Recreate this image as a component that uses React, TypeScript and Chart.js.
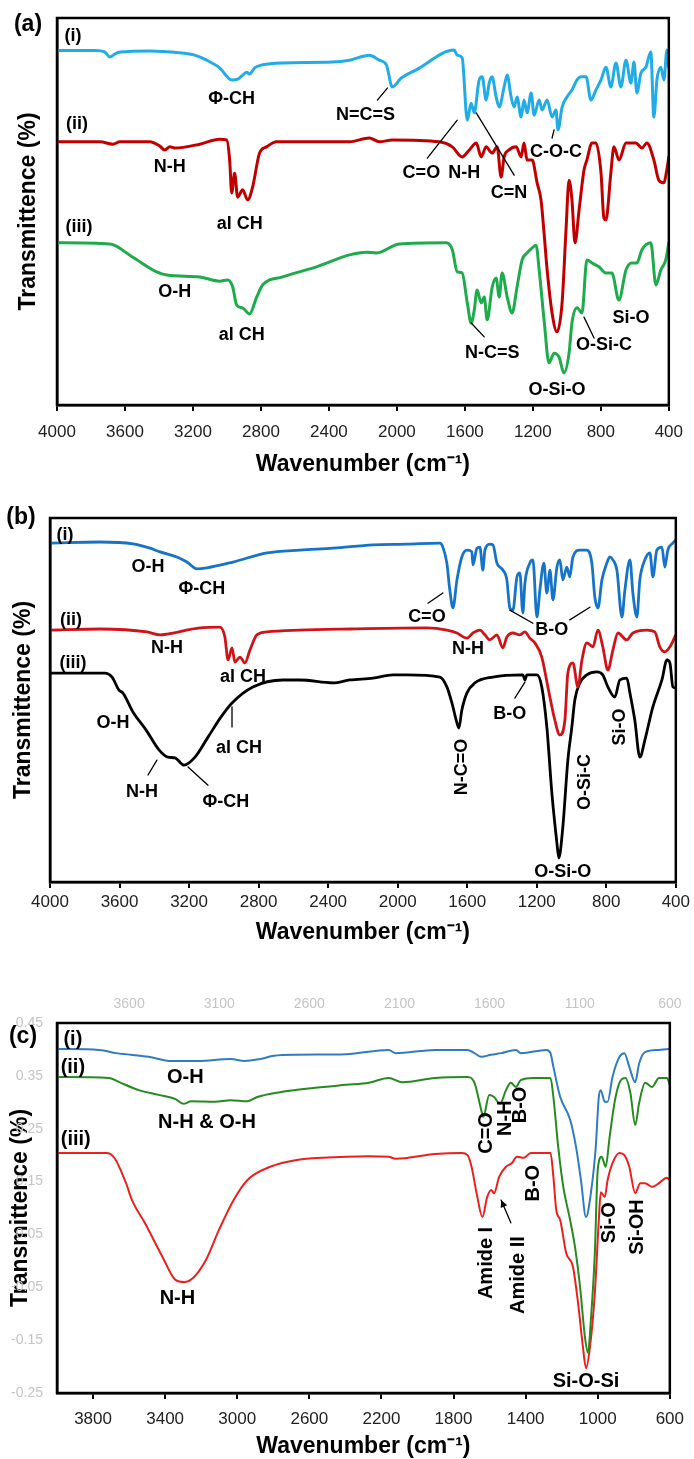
import React, { useEffect, useRef } from "react";
import { Chart, registerables } from "chart.js";

Chart.register(...registerables);

type Pair = [number, number];
type Note = { text: string; x: number; y: number; rot?: boolean };
type Leader = [number, number, number, number, boolean?];

const FONT = '"Liberation Sans", Arial, Helvetica, sans-serif';

// ---------- axis ticks ----------
const waveTicksAB = [4000, 3600, 3200, 2800, 2400, 2000, 1600, 1200, 800, 400];
const waveTicksC = [3800, 3400, 3000, 2600, 2200, 1800, 1400, 1000, 600];
const waveTicksCTop = [3600, 3100, 2600, 2100, 1600, 1100, 600];
const transTicksC = [0.45, 0.35, 0.25, 0.15, 0.05, -0.05, -0.15, -0.25];

// ---------- (a) spectra: [wavenumber cm-1, transmittance (offset)] ----------
const aSpec1: Pair[] = [
  [4000, 91.6], [3777, 91.6], [3718, 91.2], [3689, 89.9], [3659, 90.7], [3630, 91.2], [3454, 91.5],
  [3278, 91.0], [3190, 90.4], [3119, 89.1], [3043, 87.1], [2972, 84.0], [2937, 84.2], [2913, 85.0],
  [2884, 86.0], [2867, 85.5], [2837, 87.1], [2790, 87.9], [2673, 88.4], [2379, 88.6], [2279, 89.1],
  [2162, 90.4], [2103, 89.1], [2062, 87.9], [2027, 82.2], [1974, 84.5], [1886, 86.6], [1663, 91.7],
  [1645, 90.4], [1616, 89.7], [1586, 73.6], [1563, 78.0], [1545, 75.5], [1516, 84.0], [1498, 84.8],
  [1475, 78.8], [1457, 83.2], [1440, 84.8], [1416, 79.6], [1398, 77.0], [1369, 82.2], [1351, 85.3],
  [1328, 79.6], [1310, 77.0], [1293, 79.6], [1269, 74.4], [1252, 78.8], [1234, 75.5], [1210, 80.6],
  [1193, 74.9], [1163, 78.8], [1146, 76.2], [1116, 78.8], [1087, 74.4], [1064, 76.2], [1052, 71.1],
  [1028, 77.0], [999, 79.6], [970, 81.4], [940, 84.0], [917, 84.8], [887, 84.8], [858, 78.8],
  [829, 81.4], [799, 84.0], [770, 87.3], [741, 82.2], [711, 88.4], [682, 82.2], [652, 89.1],
  [623, 83.2], [605, 88.6], [588, 80.6], [564, 85.8], [535, 87.3], [506, 91.2], [488, 74.4],
  [470, 84.0], [447, 87.3], [429, 84.0], [411, 91.7], [400, 87.3],
];
const aSpec2: Pair[] = [
  [4000, 68.0], [3747, 68.0], [3671, 67.4], [3630, 68.0], [3454, 68.0], [3395, 66.9], [3366, 65.9],
  [3336, 66.7], [3307, 66.4], [3160, 67.4], [3043, 68.7], [3002, 68.5], [2984, 63.3], [2972, 54.8],
  [2955, 59.9], [2937, 53.7], [2908, 55.6], [2878, 53.0], [2849, 56.3], [2808, 65.1], [2767, 66.7],
  [2708, 68.0], [2279, 68.0], [2162, 69.0], [2103, 68.0], [2027, 68.5], [1751, 68.0], [1674, 66.7],
  [1616, 64.1], [1574, 65.9], [1533, 67.7], [1504, 64.1], [1475, 66.7], [1440, 65.1], [1410, 66.7],
  [1387, 58.9], [1369, 64.1], [1340, 65.9], [1298, 66.7], [1269, 64.1], [1252, 67.7], [1234, 63.3],
  [1204, 63.3], [1175, 57.4], [1152, 53.0], [1134, 44.4], [1116, 34.9], [1087, 23.8], [1058, 18.9],
  [1028, 26.4], [1005, 45.2], [987, 58.1], [970, 53.0], [952, 41.9], [928, 50.4], [899, 60.7],
  [882, 63.3], [852, 67.7], [829, 67.7], [799, 60.0], [782, 48.3], [770, 47.8], [741, 60.0],
  [723, 66.7], [693, 63.3], [652, 67.7], [594, 67.7], [558, 66.4], [529, 67.7], [488, 63.3],
  [459, 58.1], [429, 57.4], [412, 60.7], [400, 64.1],
];
const aSpec3: Pair[] = [
  [4000, 41.9], [3689, 41.6], [3554, 38.2], [3413, 34.4], [3354, 33.6], [3160, 33.1], [3043, 32.0],
  [2996, 32.3], [2966, 30.5], [2943, 25.8], [2908, 25.1], [2867, 23.5], [2825, 27.9], [2790, 31.0],
  [2673, 33.1], [2473, 35.7], [2279, 38.8], [2179, 39.5], [2121, 39.3], [1986, 41.6], [1710, 41.9],
  [1674, 40.1], [1645, 34.4], [1616, 34.1], [1586, 26.4], [1563, 21.2], [1545, 24.5], [1528, 29.7],
  [1504, 26.4], [1486, 27.9], [1469, 22.0], [1439, 30.5], [1416, 32.8], [1398, 27.9], [1381, 34.1],
  [1351, 27.9], [1322, 23.8], [1293, 30.5], [1263, 37.5], [1234, 39.3], [1204, 40.6], [1181, 41.3],
  [1163, 34.9], [1134, 22.0], [1105, 10.9], [1075, 13.4], [1046, 12.4], [1017, 8.3], [987, 13.4],
  [970, 21.2], [940, 25.1], [911, 23.8], [882, 37.5], [852, 36.7], [811, 35.7], [770, 34.1],
  [735, 34.1], [694, 27.1], [652, 34.9], [617, 36.7], [588, 36.7], [558, 40.1], [506, 41.9],
  [476, 31.0], [447, 34.9], [418, 37.5], [400, 41.9],
];

// ---------- (b) spectra ----------
const bSpec1: Pair[] = [
  [4000, 93.1], [3712, 93.4], [3523, 92.9], [3425, 91.7], [3367, 90.7], [3270, 89.3], [3212, 87.9],
  [3155, 86.0], [3097, 86.3], [2948, 87.9], [2752, 90.4], [2562, 91.2], [2372, 91.7], [2142, 92.6],
  [1947, 92.8], [1757, 93.1], [1740, 92.0], [1717, 87.6], [1700, 80.2], [1682, 75.3], [1659, 83.0],
  [1631, 89.3], [1602, 91.2], [1573, 90.7], [1567, 87.1], [1544, 91.7], [1527, 92.0], [1510, 85.7],
  [1498, 91.2], [1470, 92.8], [1452, 92.6], [1429, 87.6], [1412, 86.5], [1395, 85.7], [1372, 83.0],
  [1355, 75.3], [1337, 74.7], [1314, 83.8], [1297, 84.9], [1280, 73.9], [1268, 82.1], [1240, 87.6],
  [1222, 88.5], [1199, 72.8], [1182, 80.2], [1159, 87.6], [1142, 79.4], [1124, 85.7], [1107, 77.5],
  [1084, 86.5], [1067, 88.5], [1050, 83.0], [1027, 86.5], [1010, 83.8], [992, 89.3], [952, 91.2],
  [912, 91.2], [883, 87.6], [866, 78.3], [848, 75.3], [825, 83.0], [797, 87.6], [779, 89.3],
  [762, 88.5], [739, 85.7], [710, 72.8], [693, 80.2], [664, 88.5], [647, 79.4], [624, 72.8],
  [607, 83.0], [578, 88.5], [549, 90.4], [532, 83.8], [509, 91.2], [480, 92.0], [463, 86.5],
  [446, 91.2], [417, 93.1], [400, 94.0],
];
const bSpec2: Pair[] = [
  [4000, 69.2], [3712, 69.5], [3442, 68.7], [3367, 67.9], [3327, 68.1], [3293, 68.4], [3137, 69.8],
  [3022, 70.0], [2994, 67.3], [2976, 61.0], [2953, 64.3], [2936, 60.4], [2907, 61.8], [2879, 60.2],
  [2850, 63.7], [2810, 67.9], [2752, 68.7], [2562, 69.2], [2275, 69.5], [1832, 69.8], [1717, 69.2],
  [1659, 68.4], [1602, 67.0], [1567, 68.4], [1527, 69.2], [1498, 67.9], [1470, 66.5], [1429, 67.9],
  [1395, 64.3], [1372, 67.3], [1337, 68.4], [1297, 67.9], [1268, 68.7], [1240, 67.0], [1211, 65.7],
  [1171, 61.8], [1136, 53.6], [1096, 44.5], [1067, 40.4], [1038, 44.5], [1021, 57.4], [992, 60.2],
  [963, 53.6], [940, 61.0], [912, 65.7], [877, 64.6], [848, 69.2], [820, 64.6], [791, 58.2],
  [762, 63.7], [733, 68.4], [682, 66.5], [647, 68.4], [567, 69.2], [521, 68.7], [492, 64.6],
  [463, 63.2], [434, 64.6], [400, 67.9],
];
const bSpec3: Pair[] = [
  [4000, 57.4], [3684, 57.4], [3643, 56.3], [3603, 52.7], [3580, 51.9], [3523, 46.7], [3448, 41.8],
  [3373, 36.3], [3321, 34.3], [3281, 34.1], [3229, 32.1], [3166, 34.3], [3091, 39.8], [3017, 45.3],
  [2953, 49.2], [2833, 53.6], [2660, 55.5], [2562, 55.5], [2372, 54.7], [2275, 55.5], [2142, 56.0],
  [2027, 56.9], [1947, 56.9], [1757, 56.3], [1717, 53.6], [1688, 49.2], [1659, 43.7], [1648, 42.3],
  [1631, 47.2], [1602, 51.9], [1556, 54.7], [1452, 56.3], [1280, 56.9], [1268, 55.5], [1257, 56.9],
  [1199, 56.9], [1171, 53.6], [1142, 42.6], [1113, 24.4], [1084, 10.7], [1073, 6.6], [1050, 15.1],
  [1021, 33.5], [998, 42.6], [981, 50.0], [952, 54.7], [912, 56.9], [854, 57.7], [820, 56.9],
  [791, 53.6], [751, 50.8], [722, 55.5], [682, 56.0], [664, 51.9], [636, 44.5], [607, 34.3],
  [578, 39.0], [532, 48.1], [480, 55.5], [451, 61.0], [434, 60.2], [417, 53.6], [400, 53.3],
];

// ---------- (c) spectra ----------
const cSpec1: Pair[] = [
  [4000, 0.401], [3765, 0.399], [3671, 0.393], [3491, 0.386], [3365, 0.378], [3217, 0.378],
  [3036, 0.382], [2960, 0.378], [2872, 0.382], [2796, 0.388], [2670, 0.39], [2396, 0.391],
  [2160, 0.399], [2122, 0.393], [1903, 0.399], [1722, 0.399], [1684, 0.393], [1646, 0.386],
  [1591, 0.39], [1536, 0.393], [1454, 0.399], [1427, 0.393], [1284, 0.399], [1262, 0.393],
  [1246, 0.367], [1208, 0.31], [1153, 0.267], [1120, 0.215], [1093, 0.153], [1065, 0.083],
  [1038, 0.128], [1011, 0.215], [994, 0.31], [983, 0.323], [961, 0.301], [945, 0.301],
  [918, 0.348], [879, 0.386], [852, 0.393], [825, 0.367], [792, 0.338], [770, 0.374],
  [737, 0.395], [660, 0.399], [605, 0.401], [600, 0.401],
];
const cSpec2: Pair[] = [
  [4000, 0.348], [3710, 0.346], [3655, 0.338], [3546, 0.323], [3436, 0.314], [3343, 0.306],
  [3299, 0.297], [3255, 0.302], [3124, 0.301], [3036, 0.304], [2943, 0.302], [2889, 0.31],
  [2763, 0.319], [2577, 0.327], [2396, 0.333], [2270, 0.337], [2160, 0.346], [2084, 0.338],
  [1903, 0.346], [1722, 0.348], [1684, 0.337], [1646, 0.285], [1635, 0.272], [1602, 0.314],
  [1575, 0.31], [1542, 0.297], [1509, 0.323], [1482, 0.337], [1454, 0.329], [1427, 0.342],
  [1356, 0.346], [1262, 0.346], [1246, 0.31], [1219, 0.215], [1191, 0.14], [1153, 0.077],
  [1126, 0.026], [1098, -0.049], [1071, -0.144], [1054, -0.174], [1038, -0.112], [1016, 0.015],
  [1000, 0.172], [978, 0.197], [956, 0.178], [934, 0.234], [907, 0.299], [879, 0.337],
  [846, 0.346], [819, 0.318], [792, 0.257], [770, 0.299], [737, 0.337], [699, 0.329],
  [660, 0.346], [616, 0.346], [600, 0.333],
];
const cSpec3: Pair[] = [
  [4000, 0.204], [3726, 0.204], [3682, 0.195], [3617, 0.147], [3584, 0.115], [3513, 0.072],
  [3414, 0.007], [3343, -0.036], [3294, -0.04], [3244, -0.032], [3173, 0.002], [3102, 0.058],
  [3020, 0.115], [2943, 0.153], [2817, 0.178], [2670, 0.191], [2396, 0.197], [2270, 0.198],
  [2160, 0.197], [2122, 0.193], [1903, 0.202], [1755, 0.204], [1722, 0.2], [1700, 0.178],
  [1668, 0.121], [1640, 0.083], [1613, 0.121], [1591, 0.134], [1575, 0.128], [1547, 0.159],
  [1509, 0.178], [1476, 0.185], [1449, 0.197], [1410, 0.195], [1372, 0.204], [1262, 0.204],
  [1246, 0.159], [1230, 0.096], [1208, 0.077], [1175, 0.015], [1137, -0.012], [1109, -0.08],
  [1082, -0.163], [1065, -0.203], [1043, -0.163], [1016, -0.061], [994, 0.077], [983, 0.13],
  [961, 0.121], [945, 0.153], [918, 0.185], [879, 0.204], [852, 0.2], [825, 0.178],
  [792, 0.128], [764, 0.147], [737, 0.147], [699, 0.14], [660, 0.147], [616, 0.157], [600, 0.153],
];

// ---------- band assignments ----------
const aNotes: Note[] = [
  { text: "(i)", x: 3906, y: 95.3 }, { text: "Φ-CH", x: 2972, y: 79.1 },
  { text: "(ii)", x: 3883, y: 72.6 }, { text: "N-H", x: 3336, y: 61.5 },
  { text: "(iii)", x: 3871, y: 46.0 }, { text: "al CH", x: 2925, y: 46.8 },
  { text: "N=C=S", x: 2185, y: 74.9 }, { text: "C=O", x: 1856, y: 59.9 },
  { text: "N-H", x: 1604, y: 59.9 }, { text: "C=N", x: 1340, y: 54.8 },
  { text: "C-O-C", x: 1064, y: 65.4 }, { text: "al CH", x: 2913, y: 18.1 },
  { text: "O-H", x: 3307, y: 29.2 }, { text: "N-C=S", x: 1439, y: 13.4 },
  { text: "O-Si-O", x: 1058, y: 3.9 }, { text: "O-Si-C", x: 782, y: 15.5 },
  { text: "Si-O", x: 623, y: 22.5 },
];
const aLeaders: Leader[] = [
  [2115, 78.8, 2056, 81.9], [1821, 63.8, 1645, 73.6], [1533, 75.5, 1310, 59.4],
  [1087, 69.0, 1075, 71.1], [1563, 21.2, 1486, 17.6], [899, 22.7, 840, 17.3],
];

const bNotes: Note[] = [
  { text: "(i)", x: 3914, y: 95.3 }, { text: "O-H", x: 3436, y: 86.5 },
  { text: "Φ-CH", x: 3126, y: 80.5 }, { text: "(ii)", x: 3879, y: 72.0 },
  { text: "N-H", x: 3327, y: 64.3 }, { text: "(iii)", x: 3868, y: 60.2 },
  { text: "al CH", x: 2890, y: 56.3 }, { text: "O-H", x: 3638, y: 43.7 },
  { text: "N-H", x: 3471, y: 24.7 }, { text: "Φ-CH", x: 2988, y: 22.0 },
  { text: "al CH", x: 2913, y: 36.8 }, { text: "C=O", x: 1832, y: 72.8 },
  { text: "B-O", x: 1113, y: 69.2 }, { text: "N-H", x: 1596, y: 64.0 },
  { text: "N-C=O", x: 1631, y: 31.6, rot: true }, { text: "B-O", x: 1355, y: 46.1 },
  { text: "O-Si-O", x: 1050, y: 2.7 }, { text: "O-Si-C", x: 923, y: 27.5, rot: true },
  { text: "Si-O", x: 722, y: 42.6, rot: true },
];
const bLeaders: Leader[] = [
  [1826, 76.6, 1740, 79.4], [1355, 74.7, 1222, 71.1], [1010, 72.0, 894, 75.5],
  [1326, 50.5, 1268, 54.9], [3385, 33.5, 3436, 29.4], [3206, 31.6, 3091, 26.6],
  [2953, 48.1, 2953, 42.6],
];

const cNotes: Note[] = [
  { text: "(i)", x: 3912, y: 0.418 }, { text: "(ii)", x: 3912, y: 0.365 },
  { text: "(iii)", x: 3896, y: 0.229 }, { text: "O-H", x: 3288, y: 0.346 },
  { text: "N-H & O-H", x: 3168, y: 0.261 }, { text: "N-H", x: 3332, y: -0.072 },
  { text: "C=O", x: 1618, y: 0.242, rot: true }, { text: "N-H", x: 1509, y: 0.27, rot: true },
  { text: "B-O", x: 1427, y: 0.295, rot: true }, { text: "B-O", x: 1356, y: 0.147, rot: true },
  { text: "Amide I", x: 1618, y: -0.004, rot: true }, { text: "Amide II", x: 1438, y: -0.027, rot: true },
  { text: "Si-O", x: 934, y: 0.072, rot: true }, { text: "Si-OH", x: 781, y: 0.064, rot: true },
  { text: "Si-O-Si", x: 1065, y: -0.229 },
];
const cLeaders: Leader[] = [[1482, 0.072, 1536, 0.115, true]];

// ---------- chart building ----------
interface Series { data: Pair[]; color: string; width: number }
interface PanelDef {
  height: number;
  padTop: number;
  padRight: number;
  yWidth: number;
  xHeight: number;
  xMin: number;
  xMax: number;
  xTicks: number[];
  yMin: number;
  yMax: number;
  yTicks?: number[];
  topTicks?: number[];
  topHeight?: number;
  xTickPad: number;
  xTitlePad: number;
  yTitlePad: number;
  series: Series[];
  notes: Note[];
  leaders: Leader[];
  noteSize: number;
  tag: string;
  tagDx: number;
  tagDy: number;
}

function annotate(def: PanelDef) {
  return {
    id: "bandNotes",
    afterDatasetsDraw(chart: any) {
      const { ctx, chartArea, scales } = chart;
      const xs = scales.x;
      const ys = scales.y;
      ctx.save();
      // plot frame
      ctx.strokeStyle = "#000";
      ctx.lineWidth = 2.5;
      ctx.strokeRect(chartArea.left, chartArea.top, chartArea.right - chartArea.left, chartArea.bottom - chartArea.top);
      // leader lines
      ctx.lineWidth = 1.3;
      ctx.lineCap = "round";
      def.leaders.forEach(([x1, y1, x2, y2, arrow]) => {
        const p1x = xs.getPixelForValue(x1), p1y = ys.getPixelForValue(y1);
        const p2x = xs.getPixelForValue(x2), p2y = ys.getPixelForValue(y2);
        ctx.beginPath();
        ctx.moveTo(p1x, p1y);
        ctx.lineTo(p2x, p2y);
        ctx.stroke();
        if (arrow) {
          const a = Math.atan2(p2y - p1y, p2x - p1x);
          const L = 8;
          ctx.beginPath();
          ctx.moveTo(p2x, p2y);
          ctx.lineTo(p2x - L * Math.cos(a - 0.45), p2y - L * Math.sin(a - 0.45));
          ctx.lineTo(p2x - L * Math.cos(a + 0.45), p2y - L * Math.sin(a + 0.45));
          ctx.closePath();
          ctx.fillStyle = "#000";
          ctx.fill();
        }
      });
      // labels
      ctx.fillStyle = "#000";
      ctx.textAlign = "center";
      ctx.textBaseline = "middle";
      ctx.font = `bold ${def.noteSize}px ${FONT}`;
      def.notes.forEach((n) => {
        const px = xs.getPixelForValue(n.x);
        const py = ys.getPixelForValue(n.y);
        if (n.rot) {
          ctx.save();
          ctx.translate(px, py);
          ctx.rotate(-Math.PI / 2);
          ctx.fillText(n.text, 0, 0);
          ctx.restore();
        } else {
          ctx.fillText(n.text, px, py);
        }
      });
      // panel tag
      ctx.font = `bold 23px ${FONT}`;
      ctx.fillText(def.tag, chartArea.left + def.tagDx, chartArea.top + def.tagDy);
      ctx.restore();
    },
  };
}

function makeConfig(def: PanelDef): any {
  const titleFont = { family: FONT, size: 23, weight: "bold", lineHeight: 1 };
  const scales: any = {
    x: {
      type: "linear",
      position: "bottom",
      reverse: true,
      min: def.xMin,
      max: def.xMax,
      afterBuildTicks: (s: any) => {
        s.ticks = def.xTicks.map((v) => ({ value: v }));
      },
      afterFit: (s: any) => {
        s.height = def.xHeight;
      },
      ticks: {
        autoSkip: false,
        maxRotation: 0,
        padding: def.xTickPad,
        color: "#222",
        font: { family: FONT, size: 17 },
        callback: (v: any) => String(v),
      },
      grid: {
        display: true,
        drawOnChartArea: false,
        drawTicks: true,
        tickLength: 6,
        color: "#000",
        tickColor: "#000",
        tickWidth: 2,
        lineWidth: 2,
      },
      border: { display: true, color: "#000", width: 2.5 },
      title: {
        display: true,
        text: "Wavenumber (cm⁻¹)",
        color: "#000",
        font: titleFont,
        padding: { top: 0, bottom: def.xTitlePad },
      },
    },
    y: {
      type: "linear",
      position: "left",
      min: def.yMin,
      max: def.yMax,
      afterFit: (s: any) => {
        s.width = def.yWidth;
      },
      ticks: def.yTicks
        ? {
            display: true,
            autoSkip: false,
            color: "#c4c4c4",
            padding: 14,
            font: { family: FONT, size: 14 },
            callback: (v: any) => Number(v).toFixed(2),
          }
        : { display: false },
      grid: { display: false, drawTicks: false },
      border: { display: true, color: "#000", width: 2.5 },
      title: {
        display: true,
        text: "Transmittence (%)",
        color: "#000",
        font: titleFont,
        padding: { top: def.yTitlePad, bottom: 0 },
      },
    },
  };
  if (def.yTicks) {
    const yt = def.yTicks;
    scales.y.afterBuildTicks = (s: any) => {
      s.ticks = yt.map((v) => ({ value: v }));
    };
  }
  if (def.topTicks) {
    const tt = def.topTicks;
    scales.xTop = {
      type: "linear",
      position: "top",
      reverse: true,
      min: def.xMin,
      max: def.xMax,
      afterBuildTicks: (s: any) => {
        s.ticks = tt.map((v) => ({ value: v }));
      },
      afterFit: (s: any) => {
        s.height = def.topHeight;
      },
      ticks: {
        autoSkip: false,
        maxRotation: 0,
        padding: 10,
        color: "#c4c4c4",
        font: { family: FONT, size: 14 },
        callback: (v: any) => String(v),
      },
      grid: { display: false, drawTicks: false },
      border: { display: false },
    };
  }
  return {
    type: "line",
    data: {
      datasets: def.series.map((s) => ({
        data: s.data.map(([x, y]) => ({ x, y })),
        borderColor: s.color,
        borderWidth: s.width,
        pointRadius: 0,
        fill: false,
        cubicInterpolationMode: "monotone",
        borderJoinStyle: "round",
        borderCapStyle: "round",
      })),
    },
    options: {
      responsive: false,
      animation: false,
      events: [],
      layout: { padding: { top: def.padTop, right: def.padRight, bottom: 0, left: 0 } },
      plugins: { legend: { display: false }, tooltip: { enabled: false } },
      scales,
    },
    plugins: [annotate(def)],
  };
}

const panelA: PanelDef = {
  height: 482, padTop: 18, padRight: 24, yWidth: 57, xHeight: 77,
  xMin: 400, xMax: 4000, xTicks: waveTicksAB, yMin: 0, yMax: 100,
  xTickPad: 11, xTitlePad: 5.5, yTitlePad: 17.5,
  series: [
    { data: aSpec1, color: "#22ace6", width: 3 },
    { data: aSpec2, color: "#c00000", width: 3 },
    { data: aSpec3, color: "#1dab4c", width: 3 },
  ],
  notes: aNotes, leaders: aLeaders, noteSize: 18,
  tag: "(a)", tagDx: -29, tagDy: 7,
};

const panelB: PanelDef = {
  height: 470, padTop: 36, padRight: 18, yWidth: 50, xHeight: 70,
  xMin: 400, xMax: 4000, xTicks: waveTicksAB, yMin: 0, yMax: 100,
  xTickPad: 4, xTitlePad: 7.5, yTitlePad: 12,
  series: [
    { data: bSpec1, color: "#1673c6", width: 2.8 },
    { data: bSpec2, color: "#cf1419", width: 2.8 },
    { data: bSpec3, color: "#000000", width: 2.8 },
  ],
  notes: bNotes, leaders: bLeaders, noteSize: 18,
  tag: "(b)", tagDx: -29, tagDy: 0,
};

const panelC: PanelDef = {
  height: 507, padTop: 0, padRight: 16, yWidth: 57, xHeight: 66,
  xMin: 600, xMax: 4000, xTicks: waveTicksC, yMin: -0.25, yMax: 0.45, yTicks: transTicksC,
  topTicks: waveTicksCTop, topHeight: 71,
  xTickPad: 10, xTitlePad: 0.5, yTitlePad: 9.5,
  series: [
    { data: cSpec1, color: "#2f7cc0", width: 2 },
    { data: cSpec2, color: "#268a1f", width: 2 },
    { data: cSpec3, color: "#ec1f1f", width: 2 },
  ],
  notes: cNotes, leaders: cLeaders, noteSize: 20,
  tag: "(c)", tagDx: -34, tagDy: 14,
};

function Panel({ def, top }: { def: PanelDef; top: number }) {
  const ref = useRef<HTMLCanvasElement>(null);
  useEffect(() => {
    if (!ref.current) return;
    const chart = new Chart(ref.current, makeConfig(def));
    return () => chart.destroy();
  }, [def]);
  return (
    <canvas
      ref={ref}
      width={694}
      height={def.height}
      style={{ position: "absolute", left: 0, top, width: 694, height: def.height, display: "block" }}
    />
  );
}

export default function App() {
  return (
    <div style={{ position: "absolute", left: 0, top: 0, width: 694, height: 1459, background: "#fff", overflow: "hidden" }}>
      <Panel def={panelA} top={0} />
      <Panel def={panelB} top={482} />
      <Panel def={panelC} top={952} />
    </div>
  );
}
